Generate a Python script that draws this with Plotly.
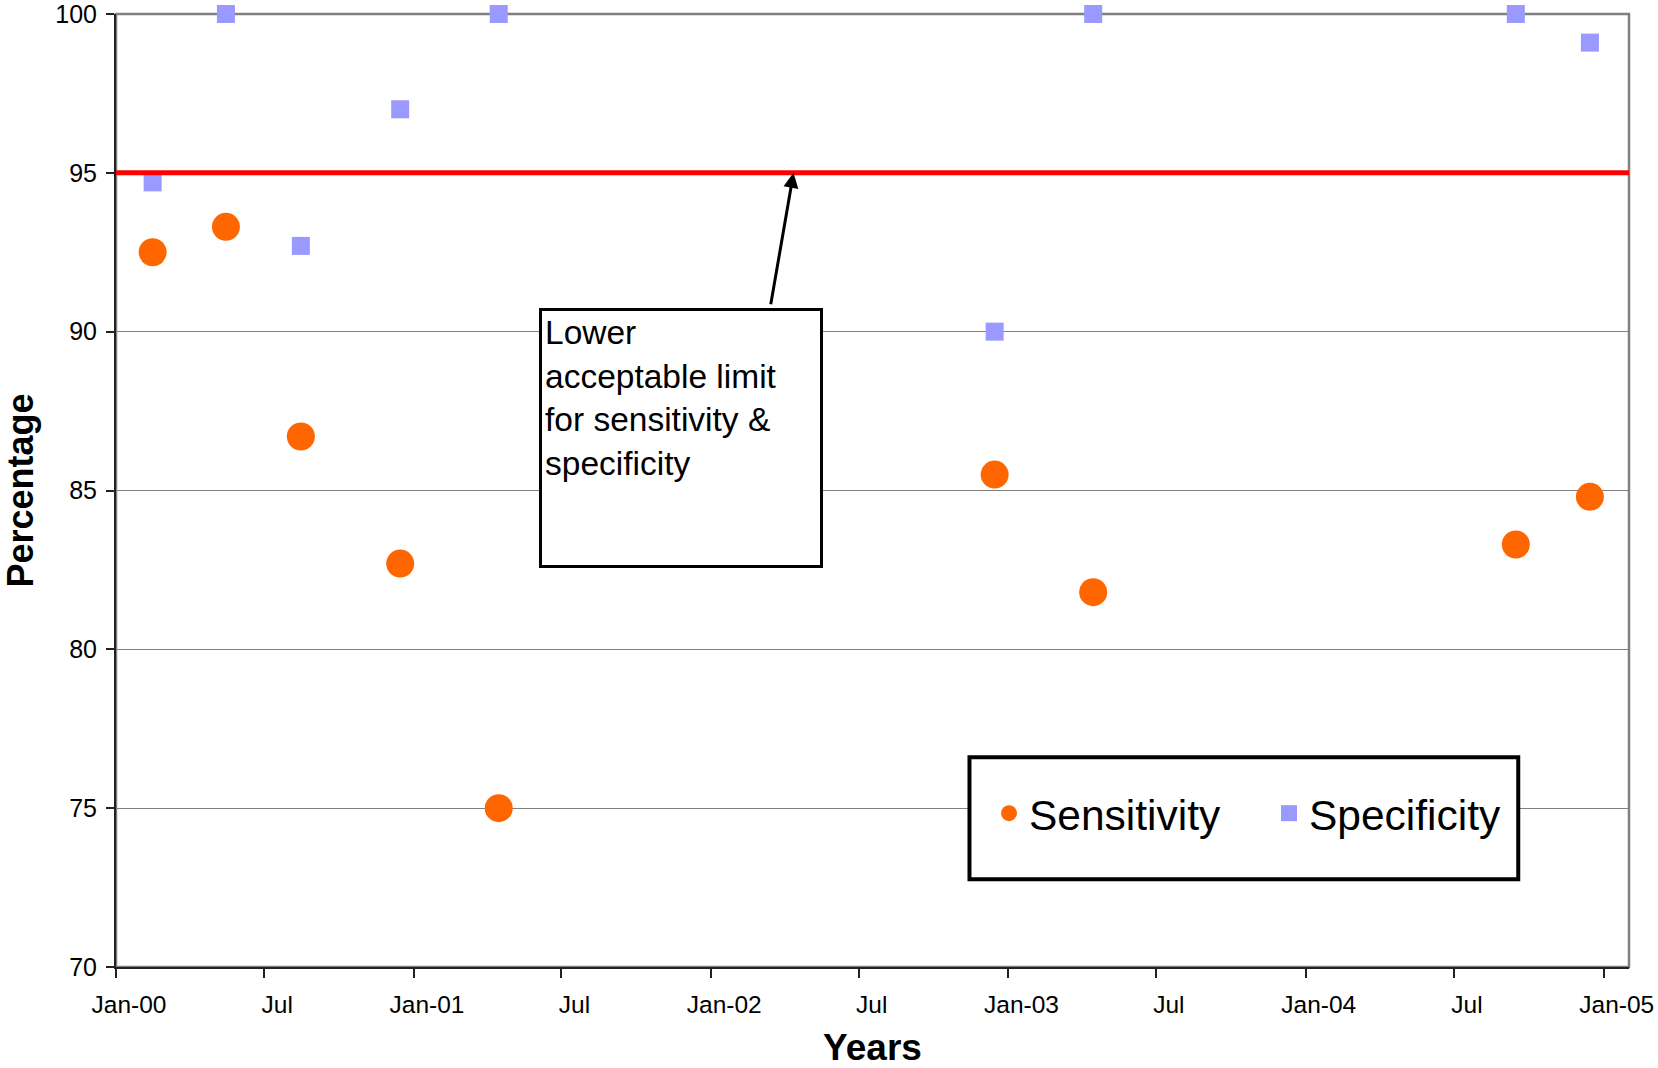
import plotly.graph_objects as go

# sample dates (mid-month) and measured percentages
dates = ["2000-02-15", "2000-05-15", "2000-08-15", "2000-12-15", "2001-04-15",
         "2002-12-15", "2003-04-15", "2004-09-15", "2004-12-15"]
sensitivity = [92.5, 93.3, 86.7, 82.7, 75.0, 85.5, 81.8, 83.3, 84.8]
specificity = [94.7, 100, 92.7, 97.0, 100, 90.0, 100, 100, 99.1]

lower_limit = 95

tick_vals = ["2000-01-01", "2000-07-01", "2001-01-01", "2001-07-01", "2002-01-01",
             "2002-07-01", "2003-01-01", "2003-07-01", "2004-01-01", "2004-07-01",
             "2005-01-01"]
tick_text = ["Jan-00", "Jul", "Jan-01", "Jul", "Jan-02", "Jul", "Jan-03", "Jul",
             "Jan-04", "Jul", "Jan-05"]
y_ticks = [70, 75, 80, 85, 90, 95, 100]

FONT = "Liberation Sans, Arial, sans-serif"

fig = go.Figure()
fig.add_trace(go.Scatter(
    x=dates, y=sensitivity, mode="markers", name="Sensitivity", cliponaxis=False,
    marker=dict(symbol="circle", size=28, color="#FF6600"),
))
fig.add_trace(go.Scatter(
    x=dates, y=specificity, mode="markers", name="Specificity", cliponaxis=False,
    marker=dict(symbol="square", size=18, color="#9999FF"),
))

# red limit line
fig.add_hline(y=lower_limit, line=dict(color="#FF0000", width=5), layer="above")

# legend frame
fig.add_shape(type="rect", xref="paper", yref="paper",
              x0=0.5641, x1=0.9268, y0=0.092, y1=0.220,
              line=dict(color="black", width=4), fillcolor="white", layer="above")

# arrow pointing at the limit line
fig.add_annotation(x="2002-04-12", y=lower_limit, xref="x", yref="y",
                   text="", showarrow=True, arrowhead=2, arrowsize=1,
                   arrowwidth=3, arrowcolor="black",
                   ax=-23, ay=133, axref="pixel", ayref="pixel")

# text box
fig.add_annotation(x="2001-06-03", y=90.75, xref="x", yref="y",
                   xanchor="left", yanchor="top", showarrow=False,
                   text="Lower<br>acceptable limit<br>for sensitivity &<br>specificity",
                   align="left", valign="top", width=272, height=248,
                   font=dict(family=FONT, size=33.5, color="black"),
                   bgcolor="white", bordercolor="black", borderwidth=3, borderpad=3)

# plot area border
fig.add_shape(type="rect", xref="paper", yref="paper", x0=0, x1=1, y0=0, y1=1,
              line=dict(color="#808080", width=2.5), layer="below")

fig.update_xaxes(
    type="date", range=["2000-01-01", "2005-02-01"],
    tickvals=tick_vals, ticktext=tick_text,
    ticks="outside", ticklen=9, tickcolor="#222222", tickwidth=1.5,
    showline=True, linecolor="#222222", linewidth=2,
    showgrid=False, zeroline=False,
    ticklabelshift=13, ticklabelstandoff=6, ticklabeloverflow="allow",
    tickfont=dict(family=FONT, size=24.5, color="black"),
    title=dict(text="<b>Years</b>", font=dict(family=FONT, size=37, color="black"),
               standoff=33),
)
fig.update_yaxes(
    range=[70, 100], tickvals=y_ticks,
    ticks="outside", ticklen=8, tickcolor="#222222", tickwidth=1.5,
    showline=True, linecolor="#222222", linewidth=2,
    showgrid=True, gridcolor="#808080", gridwidth=1.3, zeroline=False,
    ticklabeloverflow="allow", ticklabelstandoff=4,
    tickfont=dict(family=FONT, size=25, color="black"),
    title=dict(text="<b>Percentage</b>", font=dict(family=FONT, size=36, color="black"),
               standoff=22),
)

fig.update_layout(
    width=1658, height=1068,
    margin=dict(l=116, r=29, t=14, b=101, autoexpand=False),
    plot_bgcolor="white", paper_bgcolor="white",
    font=dict(family=FONT, color="black"),
    showlegend=True,
    legend=dict(orientation="h", x=0.577, y=0.161, xanchor="left", yanchor="middle",
                bgcolor="rgba(0,0,0,0)", borderwidth=0, entrywidth=235,
                font=dict(family=FONT, size=42.5, color="black")),
)

fig.write_html("out.html", config={"displayModeBar": False},
               post_script="document.body.style.margin='0';")
